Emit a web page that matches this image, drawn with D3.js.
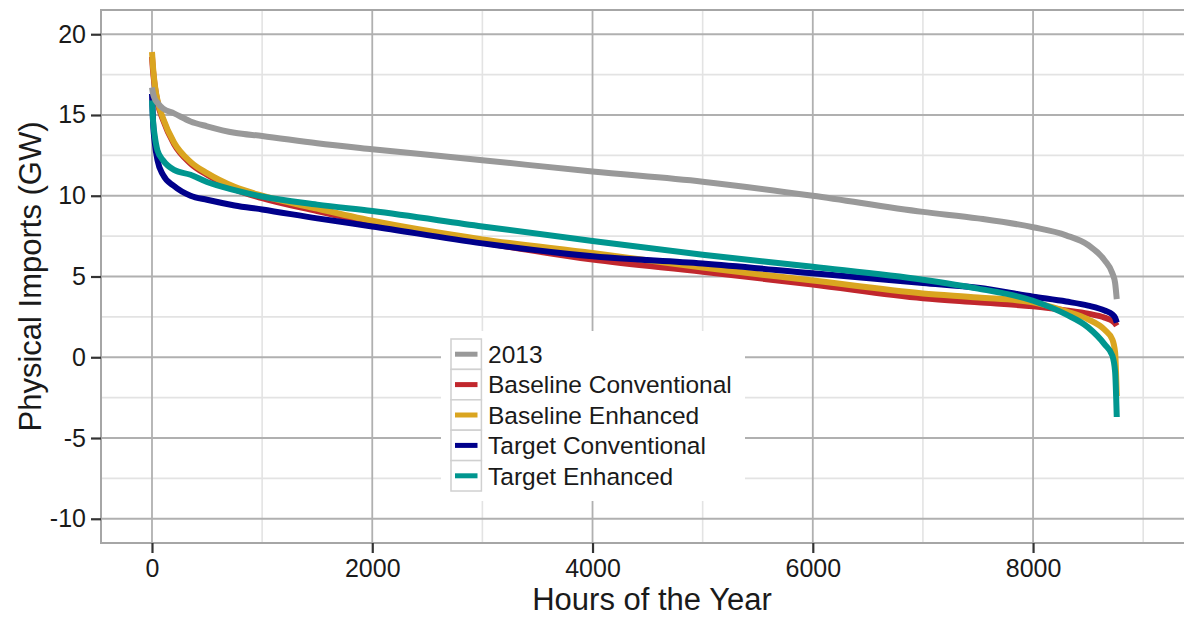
<!DOCTYPE html>
<html>
<head>
<meta charset="utf-8">
<script src="https://cdn.jsdelivr.net/npm/d3@7"></script>
<style>
  body { margin: 0; background: #fff; }
  text { font-family: "Liberation Sans", Arial, sans-serif; fill: #1a1a1a; }
</style>
</head>
<body>
<svg width="1184" height="617"></svg>
<script>
// hours sampled along the duration curves
var hours = [0, 10, 25, 50, 100, 200, 350, 500, 750, 1000, 1500, 2000, 3000, 4000, 5000, 6000, 7000, 7500, 8000, 8300, 8500, 8650, 8720, 8745, 8760];

var s2013 =      [16.7, 16.3, 16.0, 15.75, 15.4, 15.1, 14.6, 14.3, 13.9, 13.7, 13.25, 12.88, 12.2, 11.5, 10.87, 10.0, 9.0, 8.6, 8.05, 7.55, 6.95, 6.0, 5.2, 4.6, 3.6];
var baseConv =   [18.6, 17.7, 16.8, 15.8, 14.7, 13.2, 12.0, 11.3, 10.4, 9.85, 9.05, 8.3, 7.1, 6.05, 5.3, 4.5, 3.65, 3.4, 3.15, 2.9, 2.7, 2.45, 2.25, 2.1, 1.95];
var baseEnh =    [18.9, 17.9, 16.9, 15.9, 14.8, 13.3, 12.1, 11.4, 10.55, 10.0, 9.2, 8.45, 7.3, 6.45, 5.55, 4.75, 3.95, 3.7, 3.4, 2.85, 2.35, 1.7, 1.1, 0.3, -2.4];
var targConv =   [16.3, 14.5, 13.3, 12.2, 11.3, 10.6, 10.0, 9.75, 9.4, 9.15, 8.6, 8.1, 7.05, 6.25, 5.8, 5.2, 4.6, 4.3, 3.75, 3.45, 3.2, 2.9, 2.65, 2.45, 2.15];
var targEnh =    [15.9, 14.6, 13.7, 12.8, 12.2, 11.6, 11.3, 10.85, 10.35, 9.95, 9.45, 9.05, 8.1, 7.2, 6.35, 5.6, 4.8, 4.25, 3.5, 2.65, 1.85, 0.8, 0.1, -0.9, -3.7];

var seriesNames = ["2013", "Baseline Conventional", "Baseline Enhanced", "Target Conventional", "Target Enhanced"];
var seriesValues = [s2013, baseConv, baseEnh, targConv, targEnh];
var colors = ["#999999", "#c1272d", "#daa520", "#00008b", "#00968f"];
var drawOrder = [1, 2, 3, 4, 0];

var xTicks = [0, 2000, 4000, 6000, 8000],
    xMinor = [1000, 3000, 5000, 7000, 9000],
    yTicks = [-10, -5, 0, 5, 10, 15, 20],
    yMinor = [-7.5, -2.5, 2.5, 7.5, 12.5, 17.5];

var svg = d3.select("svg"),
    margin = {top: 10, right: -6, bottom: 74, left: 101},
    width = +svg.attr("width") - margin.left - margin.right,
    height = +svg.attr("height") - margin.top - margin.bottom,
    g = svg.append("g").attr("transform", "translate(" + margin.left + "," + margin.top + ")");

var x = d3.scaleLinear().domain([-463, 9425]).range([0, width]),
    y = d3.scaleLinear().domain([-11.5, 21.5]).range([height, 0]);

// panel background
g.append("rect").attr("width", width).attr("height", height).attr("fill", "#fff");

// minor grid
g.selectAll(".minor-x").data(xMinor).enter().append("line")
    .attr("x1", x).attr("x2", x).attr("y1", 0).attr("y2", height)
    .attr("stroke", "#e3e3e3").attr("stroke-width", 1.6);
g.selectAll(".minor-y").data(yMinor).enter().append("line")
    .attr("y1", y).attr("y2", y).attr("x1", 0).attr("x2", width)
    .attr("stroke", "#e3e3e3").attr("stroke-width", 1.6);

// major grid
g.selectAll(".major-x").data(xTicks).enter().append("line")
    .attr("x1", x).attr("x2", x).attr("y1", 0).attr("y2", height)
    .attr("stroke", "#b0b0b0").attr("stroke-width", 1.8);
g.selectAll(".major-y").data(yTicks).enter().append("line")
    .attr("y1", y).attr("y2", y).attr("x1", 0).attr("x2", width)
    .attr("stroke", "#b0b0b0").attr("stroke-width", 1.8);

// lines
var line = d3.line()
    .curve(d3.curveMonotoneX)
    .x(function(d) { return x(d.h); })
    .y(function(d) { return y(d.v); });

g.selectAll(".series")
  .data(drawOrder)
  .enter().append("path")
    .attr("fill", "none")
    .attr("stroke", function(i) { return colors[i]; })
    .attr("stroke-width", 6)
    .attr("d", function(i) {
      return line(hours.map(function(h, k) { return {h: h, v: seriesValues[i][k]}; }));
    });

// legend
var legend = g.append("g").attr("transform", "translate(" + (441 - margin.left) + "," + (331 - margin.top) + ")");
legend.append("rect").attr("width", 304).attr("height", 170).attr("fill", "#fff");
var item = legend.selectAll(".item")
  .data(seriesNames)
  .enter().append("g")
    .attr("transform", function(d, i) { return "translate(10," + (8 + i * 30.4) + ")"; });
item.append("rect")
    .attr("width", 30.4).attr("height", 30.4)
    .attr("fill", "#fff").attr("stroke", "#d0d0d0").attr("stroke-width", 1.5);
item.append("line")
    .attr("x1", 4).attr("x2", 26.5).attr("y1", 15.2).attr("y2", 15.2)
    .attr("stroke", function(d, i) { return colors[i]; })
    .attr("stroke-width", 5);
item.append("text")
    .attr("x", 37).attr("y", 15.2).attr("dy", "0.36em")
    .style("font-size", "24.5px")
    .text(function(d) { return d; });

// panel border
g.append("rect").attr("width", width).attr("height", height)
    .attr("fill", "none").attr("stroke", "#a6a6a6").attr("stroke-width", 2);

// axes
var fmt = function(d) { return String(d); };
var xAxis = g.append("g")
    .attr("transform", "translate(0," + height + ")")
    .call(d3.axisBottom(x).tickValues(xTicks).tickFormat(fmt).tickSize(10).tickPadding(6));
var yAxis = g.append("g")
    .call(d3.axisLeft(y).tickValues(yTicks).tickFormat(fmt).tickSize(10).tickPadding(5));
[xAxis, yAxis].forEach(function(a) {
  a.select(".domain").remove();
  a.selectAll("line").attr("stroke", "#333").attr("stroke-width", 2.2);
  a.selectAll("text").style("font-size", "25px").attr("fill", "#1a1a1a")
    .style("font-family", "'Liberation Sans', Arial, sans-serif");
});

// titles
svg.append("text")
    .attr("x", 652).attr("y", 610)
    .attr("text-anchor", "middle")
    .style("font-size", "31px")
    .text("Hours of the Year");
svg.append("text")
    .attr("transform", "translate(41," + (margin.top + height / 2) + ") rotate(-90)")
    .attr("text-anchor", "middle")
    .style("font-size", "31px")
    .text("Physical Imports (GW)");
</script>
</body>
</html>
